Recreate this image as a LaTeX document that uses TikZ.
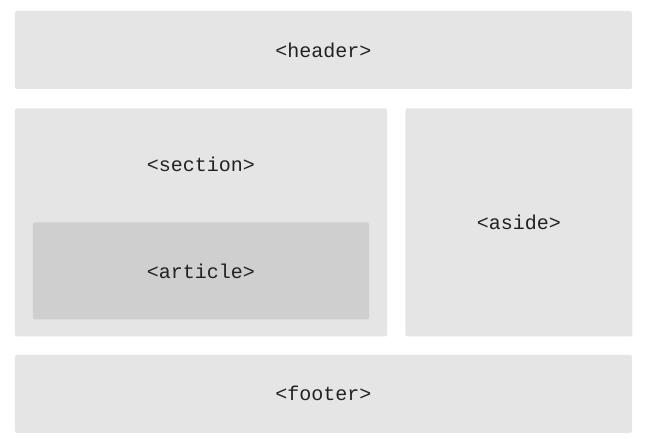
\documentclass[tikz,border=0pt]{standalone}
\usepackage{fontspec}
\setmonofont{Liberation Mono}
\usetikzlibrary{positioning}
\definecolor{boxgray}{HTML}{E5E5E5}
\definecolor{innergray}{HTML}{CFCFCF}
\definecolor{tagtext}{HTML}{222222}

\begin{document}
\begin{tikzpicture}[x=1bp,y=-1bp,node distance=18bp,
	block/.style={fill=boxgray, rounded corners=2bp, inner sep=0pt},
	tag/.style={font=\ttfamily\fontsize{20bp}{24bp}\selectfont, text=tagtext}]
	\useasboundingbox (0,0) rectangle (650,439);
	
	\node[block, minimum width=617bp, minimum height=78bp] (header) at (323.5,50) {};
	\node[block, minimum width=372bp, minimum height=228bp, below right=19bp and 0bp of header.south west] (section) {};
	\node[block, minimum width=227bp, minimum height=228bp, right=18bp of section] (aside) {};
	\node[block, minimum width=617bp, minimum height=78bp, below right=18bp and 0bp of section.south west] (footer) {};
	\node[block, fill=innergray, minimum width=336bp, minimum height=97bp, below=114bp of section.north, anchor=north] (article) {};
	
	\node[tag] at (header) {<header>};
	\node[tag, below=56bp of section.north, anchor=center] (sectionlabel) {<section>};
	\node[tag] at (article) {<article>};
	\node[tag] at (aside) {<aside>};
	\node[tag] at (footer) {<footer>};
\end{tikzpicture}
\end{document}
